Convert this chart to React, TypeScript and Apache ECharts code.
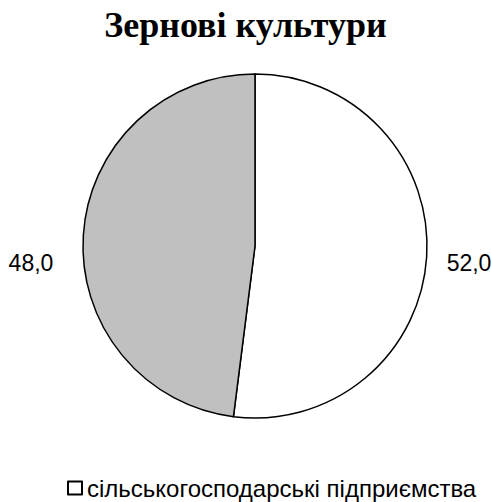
import React, { useEffect, useRef } from "react";
import * as echarts from "echarts";

const categories = ["сільськогосподарські підприємства", "господарства населення"];
const values = [52.0, 48.0];
const colors = ["#ffffff", "#c0c0c0"];

export default function App() {
  const ref = useRef<HTMLDivElement>(null);
  useEffect(() => {
    const chart = echarts.init(ref.current!, undefined, { renderer: "svg" });
    chart.setOption({
      animation: false,
      title: {
        text: "Зернові культури",
        left: "center",
        top: 7,
        padding: 0,
        textStyle: { fontFamily: "Liberation Serif", fontWeight: "bold", fontSize: 36, color: "#000" },
      },
      legend: {
        data: [categories[0]],
        left: 67,
        top: 476,
        padding: 0,
        itemWidth: 14,
        itemHeight: 13,
        icon: "rect",
        textStyle: { fontFamily: "Liberation Sans", fontSize: 24, color: "#000" },
      },
      series: [
        {
          type: "pie",
          center: [255, 246],
          radius: 172,
          startAngle: 90,
          clockwise: true,
          data: categories.map((c, i) => ({
            name: c,
            value: values[i],
            itemStyle: { color: colors[i], borderColor: "#000", borderWidth: 1.5 },
          })),
          label: {
            show: true,
            position: "outside",
            formatter: (p: any) => p.value.toFixed(1).replace(".", ","),
            fontFamily: "Liberation Sans",
            fontSize: 23,
            color: "#000",
            overflow: "none",
            edgeDistance: 0,
          },
          labelLine: { show: false, length: 12, length2: 3 },
          labelLayout: (p: any) => (p.dataIndex === 0 ? { dy: 5 } : { dx: -10, dy: 29 }),
          emphasis: { disabled: true },
        },
      ],
    });
    return () => chart.dispose();
  }, []);
  return <div ref={ref} style={{ position: "absolute", left: 0, top: 0, width: 491, height: 502 }} />;
}
